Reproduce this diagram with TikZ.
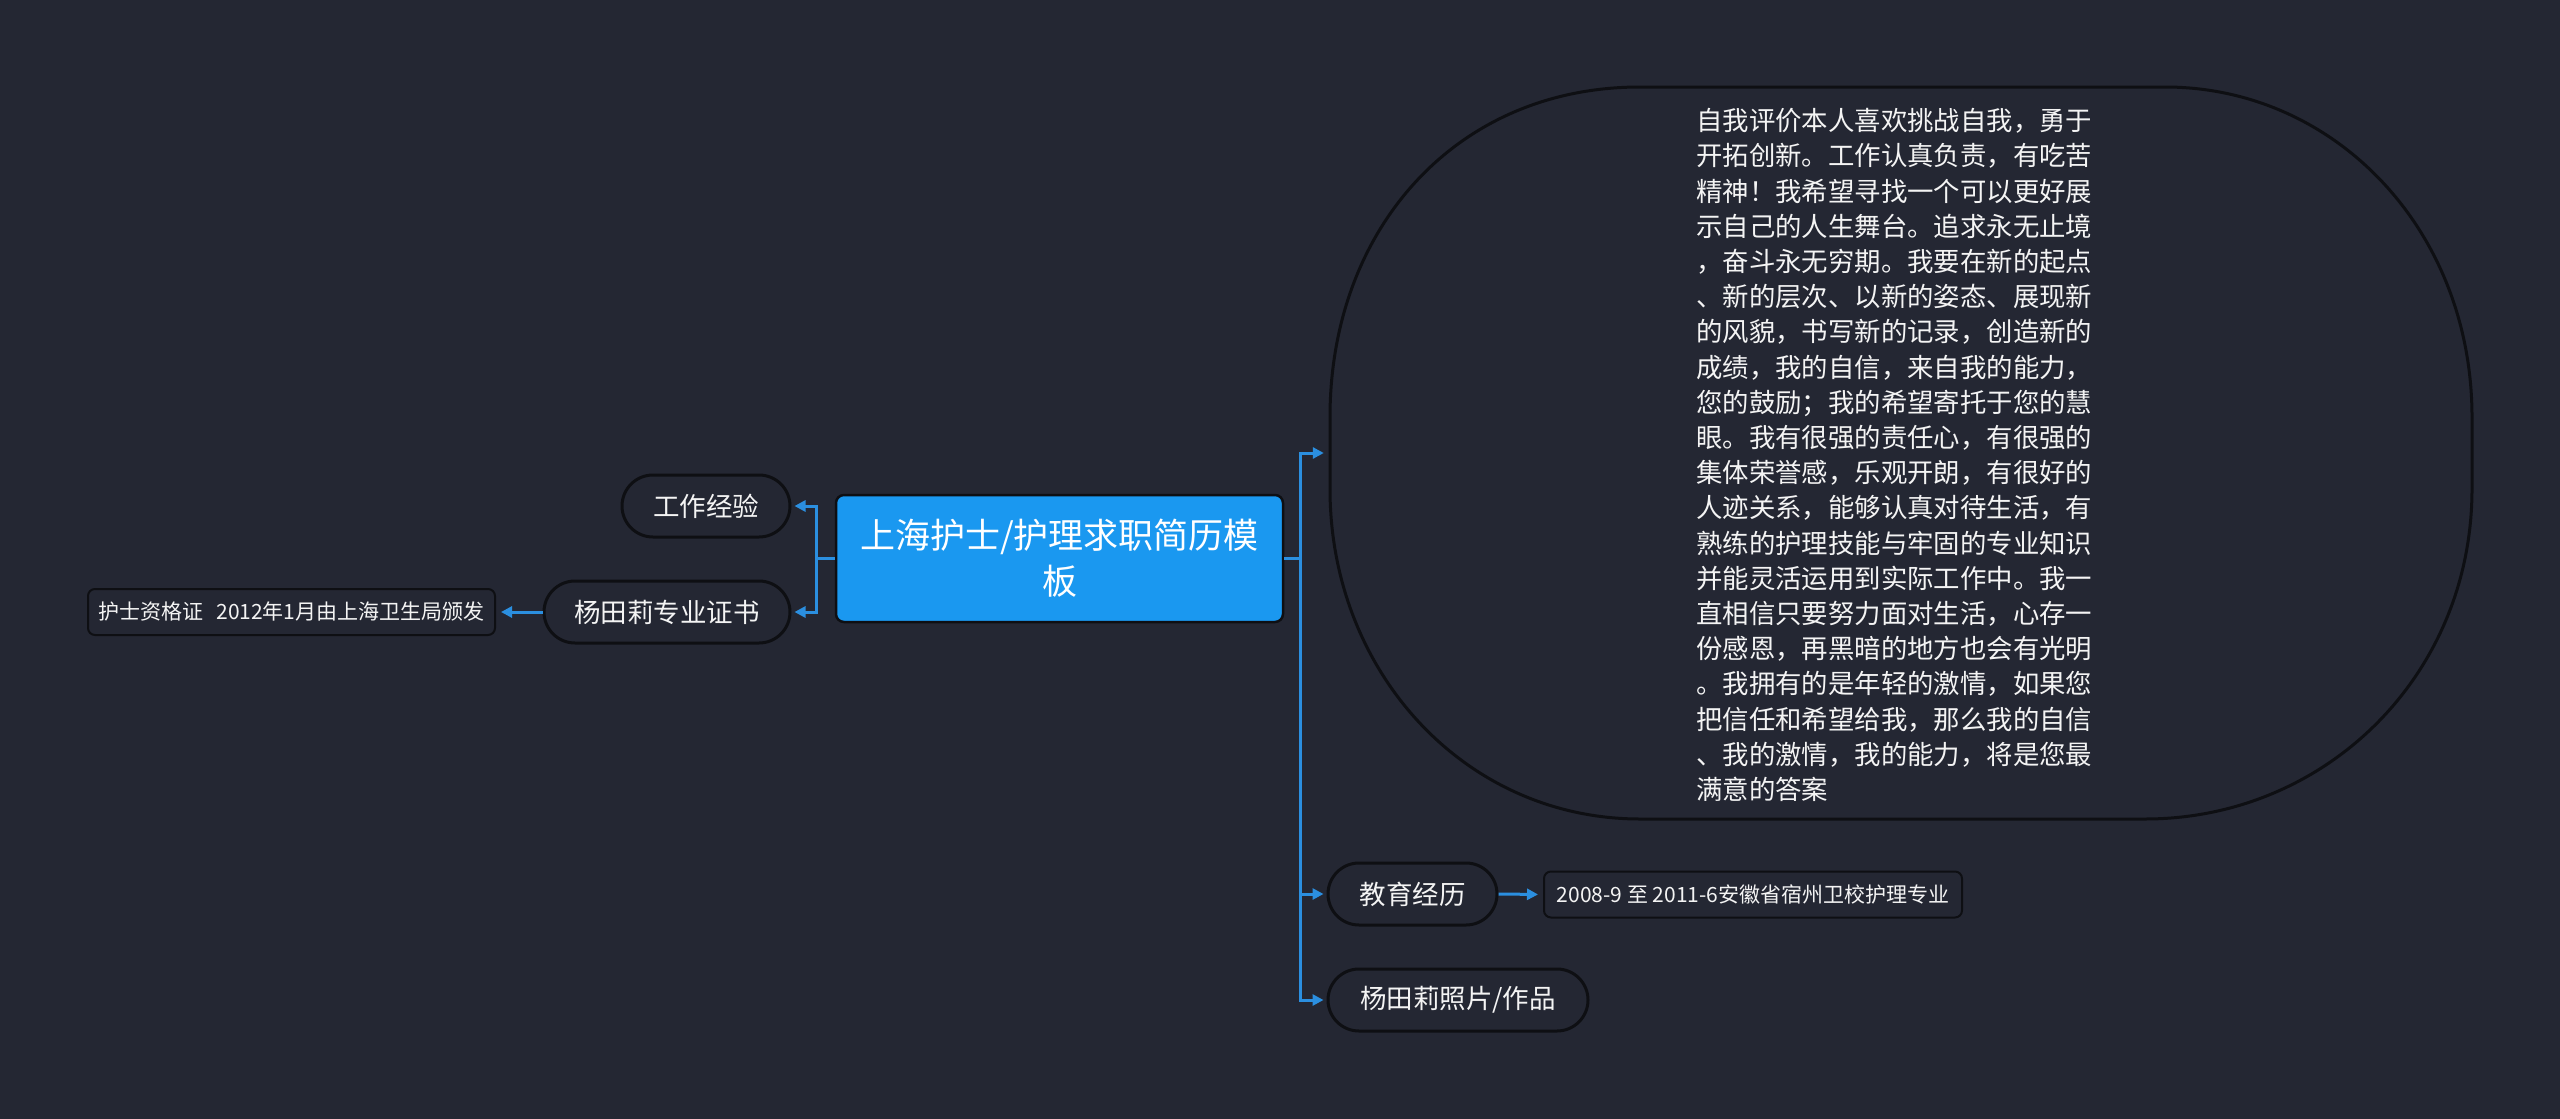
\documentclass[tikz,border=0pt]{standalone}
\usepackage{fontspec}
\setmainfont{Noto Sans CJK SC}
\usetikzlibrary{arrows.meta,calc}
\definecolor{bg}{HTML}{242733}
\definecolor{conn}{HTML}{2B8FE0}
\definecolor{rootblue}{HTML}{1A98F0}
\definecolor{edge}{HTML}{0E0F13}
\definecolor{txt}{HTML}{F4F4F4}
\begin{document}
\begin{tikzpicture}[x=1pt,y=-1pt,
  pill/.style={draw=edge, line width=3pt, fill=bg, rounded corners=31pt,
    minimum height=62pt, inner sep=0pt, text=txt, font=\fontsize{26.5}{32}\selectfont},
  leafbox/.style={draw=edge, line width=2pt, fill=bg, rounded corners=7pt,
    minimum height=46pt, inner sep=0pt, text=txt, font=\fontsize{21}{26}\selectfont},
  rootbox/.style={draw=edge, line width=2.5pt, fill=rootblue, rounded corners=8pt,
    minimum width=447pt, minimum height=127pt, inner sep=0pt, align=center,
    text=white, font=\fontsize{35}{46}\selectfont},
  evaltext/.style={inner sep=0pt, align=left, text=txt, font=\fontsize{26.4}{35.2}\selectfont},
  bubble/.style={draw=edge, line width=3pt, fill=bg},
  link/.style={draw=conn, line width=3pt, -{Triangle[length=11pt,width=11pt]}, shorten >=3pt}
]
\useasboundingbox (0,0) rectangle (2560,1119);
\fill[bg] (0,0) rectangle (2560,1119);

% root
\node[rootbox] (root) at (1059.5,558.5) {上海护士/护理求职简历模\\板};

% left side
\node[pill, minimum width=168pt] (work) at (706,506) {工作经验};
\node[pill, minimum width=246pt] (cert) at (667,612) {杨田莉专业证书};
\node[leafbox, minimum width=407pt] (certleaf) at (291.5,612) {护士资格证\hspace{13pt}2012年1月由上海卫生局颁发};

% right side
\node[minimum width=1142pt, minimum height=732pt, inner sep=0pt] (eval) at (1901,453) {};
\draw[bubble] (1640,87) -- (2165,87)
  .. controls (2335,87) and (2472,230) .. (2472,417)
  -- (2472,489)
  .. controls (2472,676) and (2325,819) .. (2145,819)
  -- (1640,819)
  .. controls (1464.3,819) and (1330,671.3) .. (1330,489)
  -- (1330,417)
  .. controls (1330,230) and (1455,87) .. (1640,87) -- cycle;
\node[evaltext, anchor=west] (evaltxt) at (1696,455) {自我评价本人喜欢挑战自我，勇于\\
开拓创新。工作认真负责，有吃苦\\
精神！我希望寻找一个可以更好展\\
示自己的人生舞台。追求永无止境\\
，奋斗永无穷期。我要在新的起点\\
、新的层次、以新的姿态、展现新\\
的风貌，书写新的记录，创造新的\\
成绩，我的自信，来自我的能力，\\
您的鼓励；我的希望寄托于您的慧\\
眼。我有很强的责任心，有很强的\\
集体荣誉感，乐观开朗，有很好的\\
人迹关系，能够认真对待生活，有\\
熟练的护理技能与牢固的专业知识\\
并能灵活运用到实际工作中。我一\\
直相信只要努力面对生活，心存一\\
份感恩，再黑暗的地方也会有光明\\
。我拥有的是年轻的激情，如果您\\
把信任和希望给我，那么我的自信\\
、我的激情，我的能力，将是您最\\
满意的答案};

\node[pill, minimum width=169pt] (edu) at (1412.5,894) {教育经历};
\node[leafbox, minimum width=418pt] (eduleaf) at (1753,894.5) {2008-9 至 2011-6安徽省宿州卫校护理专业};
\node[pill, minimum width=260pt] (photo) at (1458,1000) {杨田莉照片/作品};

% connectors
\draw[link] (root.west) -- ++(-18,0) |- (work.east);
\draw[link] (root.west) -- ++(-18,0) |- (cert.east);
\draw[link, shorten >=5pt] (cert.west) -- (certleaf.east);
\draw[link, shorten >=6pt] (root.east) -- ++(16.5,0) |- (eval.west);
\draw[link] (root.east) -- ++(16.5,0) |- (edu.west);
\draw[link] (root.east) -- ++(16.5,0) |- (photo.west);
\draw[link, shorten >=5pt] (edu.east) -- (eduleaf.west);
\end{tikzpicture}
\end{document}
